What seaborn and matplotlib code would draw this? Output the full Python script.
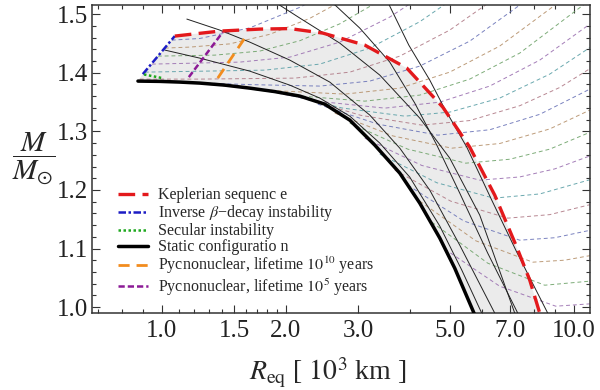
import numpy as np
import matplotlib
matplotlib.use("Agg")
import matplotlib.pyplot as plt
from matplotlib.ticker import FixedLocator, FixedFormatter, NullFormatter
import seaborn as sns

# ---------------- data (R_eq in 10^3 km, M in M_sun) ----------------
r_static = [0.875, 0.989, 1.106, 1.236, 1.422, 1.635, 1.880, 2.163, 2.486, 2.860, 3.289, 3.782, 4.229, 4.730, 5.142, 5.686, 5.848]
m_static = [1.3857, 1.3852, 1.3840, 1.3823, 1.3788, 1.3737, 1.3678, 1.3601, 1.3464, 1.3191, 1.2765, 1.2287, 1.1775, 1.1178, 1.0665, 0.9949, 0.9744]

r_kep = [1.075, 1.383, 1.729, 2.045, 2.459, 3.110, 3.933, 4.809, 5.592, 6.431, 7.273, 7.821, 8.270, 8.363]
m_kep = [1.4625, 1.4710, 1.4744, 1.4753, 1.4676, 1.4471, 1.4079, 1.3413, 1.2730, 1.1911, 1.1024, 1.0461, 0.9898, 0.9813]

r_beta = [0.899, 1.075]
m_beta = [1.3976, 1.4625]
r_sec = [0.905, 1.000]
m_sec = [1.3970, 1.3910]
r_pyc10 = [1.367, 1.608]
m_pyc10 = [1.3908, 1.4642]
r_pyc5 = [1.163, 1.406]
m_pyc5 = [1.3925, 1.4693]

# thin solid sequences
r_om1 = [1.017, 1.236, 1.635, 2.045, 2.418, 2.860, 3.382, 3.999, 4.730, 5.349, 5.979]
m_om1 = [1.4386, 1.4249, 1.4027, 1.3788, 1.3567, 1.3259, 1.2799, 1.2219, 1.1383, 1.0632, 0.9898]
r_om2 = [1.150, 1.383, 1.635, 2.045, 2.557, 3.198, 3.782, 4.472, 5.288, 6.431]
m_om2 = [1.4915, 1.4727, 1.4522, 1.4215, 1.3840, 1.3277, 1.2713, 1.1997, 1.1058, 0.9898]
r_om3 = [1.849, 2.163, 2.704, 3.382, 4.229, 5.000, 5.913, 7.192]
m_om3 = [1.5239, 1.4932, 1.4505, 1.3959, 1.3225, 1.2543, 1.1570, 0.9898]
r_om4 = [2.557, 3.024, 3.576, 4.113, 4.651, 5.288, 6.183, 7.314]
m_om4 = [1.5239, 1.4761, 1.4181, 1.3481, 1.2765, 1.1946, 1.0922, 0.9898]
r_om5 = [3.517, 3.977, 4.472, 4.837, 5.500, 6.324, 7.273, 8.648]
m_om5 = [1.5239, 1.4471, 1.3874, 1.3413, 1.2730, 1.1826, 1.0939, 0.9898]

# thin dashed sequences
r_j1 = [1.057, 1.236, 1.635, 2.163, 2.287]
m_j1 = [1.4556, 1.4584, 1.4765, 1.5116, 1.5205]
r_j2 = [1.017, 1.169, 1.462, 1.828, 2.287, 2.704]
m_j2 = [1.4420, 1.4437, 1.4492, 1.4655, 1.4928, 1.5205]
r_j3 = [0.978, 1.345, 1.729, 2.163, 2.704, 3.382]
m_j3 = [1.4283, 1.4300, 1.4369, 1.4546, 1.4834, 1.5230]
r_j4 = [0.946, 1.546, 2.045, 2.704, 3.576, 4.229]
m_j4 = [1.4147, 1.4181, 1.4266, 1.4522, 1.4949, 1.5287]
r_j5 = [0.909, 1.778, 2.418, 3.198, 4.229, 5.288]
m_j5 = [1.4010, 1.4044, 1.4147, 1.4420, 1.4870, 1.5341]
r_j6 = [0.884, 1.236, 2.103, 2.860, 3.782, 5.000, 6.253]
m_j6 = [1.3891, 1.3891, 1.3908, 1.4010, 1.4283, 1.4727, 1.5205]
r_j7 = [1.106, 1.635, 2.418, 3.198, 4.229, 5.592, 7.821]
m_j7 = [1.3840, 1.3797, 1.3772, 1.3857, 1.4113, 1.4539, 1.5277]
r_j8 = [1.308, 1.912, 2.782, 3.782, 5.000, 6.610, 9.247]
m_j8 = [1.3797, 1.3691, 1.3635, 1.3737, 1.4010, 1.4454, 1.5213]
r_j9 = [1.503, 2.163, 3.110, 4.229, 5.592, 7.396, 10.94]
m_j9 = [1.3763, 1.3603, 1.3515, 1.3618, 1.3891, 1.4335, 1.5239]
r_j10 = [1.710, 2.418, 3.478, 4.730, 6.253, 8.270, 10.94]
m_j10 = [1.3720, 1.3509, 1.3396, 1.3498, 1.3772, 1.4215, 1.4829]
r_j11 = [1.934, 2.735, 3.889, 5.000, 6.610, 8.745, 10.94]
m_j11 = [1.3660, 1.3399, 1.3259, 1.3328, 1.3567, 1.3976, 1.4428]
r_j12 = [2.163, 3.041, 4.277, 5.592, 7.396, 9.247, 10.94]
m_j12 = [1.3584, 1.3273, 1.3106, 1.3184, 1.3437, 1.3748, 1.4068]
r_j13 = [2.391, 3.344, 4.677, 6.253, 8.270, 10.94]
m_j13 = [1.3464, 1.3123, 1.2935, 1.3027, 1.3290, 1.3720]
r_j14 = [2.630, 3.637, 5.057, 6.610, 8.745, 10.94]
m_j14 = [1.3311, 1.2922, 1.2713, 1.2792, 1.3041, 1.3362]
r_j15 = [2.860, 3.955, 5.469, 6.994, 8.745, 10.94]
m_j15 = [1.3140, 1.2696, 1.2457, 1.2524, 1.2696, 1.2983]
r_j16 = [3.110, 4.277, 5.913, 7.396, 8.993, 10.94]
m_j16 = [1.2884, 1.2418, 1.2167, 1.2222, 1.2359, 1.2580]
r_j17 = [3.382, 4.651, 6.394, 8.270, 10.94]
m_j17 = [1.2611, 1.2123, 1.1860, 1.1932, 1.2174]
r_j18 = [3.678, 5.028, 6.916, 8.745, 10.94]
m_j18 = [1.2338, 1.1809, 1.1519, 1.1579, 1.1748]
r_j19 = [3.955, 5.408, 7.396, 8.993, 10.94]
m_j19 = [1.2082, 1.1471, 1.1143, 1.1185, 1.1311]
r_j20 = [4.229, 5.783, 7.953, 9.511, 10.94]
m_j20 = [1.1809, 1.1133, 1.0768, 1.0802, 1.0879]
r_j21 = [4.522, 6.183, 8.504, 10.94]
m_j21 = [1.1451, 1.0751, 1.0375, 1.0444]
r_j22 = [4.864, 6.610, 9.044, 10.94]
m_j22 = [1.0990, 1.0358, 1.0017, 1.0057]

x_ticks = [1.0, 1.5, 2.0, 3.0, 5.0, 7.0, 10.0]
x_tick_labels = ["1.0", "1.5", "2.0", "3.0", "5.0", "7.0", "10.0"]
x_minor = [0.7, 0.8, 0.9, 1.1, 1.2, 1.3, 1.4, 1.6, 1.7, 1.8, 1.9, 4.0, 6.0, 8.0, 9.0]
y_ticks = [1.0, 1.1, 1.2, 1.3, 1.4, 1.5]
y_tick_labels = ["1.0", "1.1", "1.2", "1.3", "1.4", "1.5"]

labels = ["Keplerian sequenc e", "Inverse $\\beta$\u2212decay instability", "Secular instability",
          "Static configuratio n", "Pycnonuclear, lifetime $10^{10}$ years",
          "Pycnonuclear, lifetime $10^{5}$ years"]

# ---------------- style ----------------
sns.set_theme(style="white")
plt.rcParams["font.family"] = ["Liberation Serif", "DejaVu Serif"]
plt.rcParams["mathtext.fontset"] = "stix"

fig = plt.figure(figsize=(6.0, 3.9), dpi=100)
ax = fig.add_axes([0.153, 0.197, 0.830, 0.790])
ax.set_xscale("log")

# shaded stable region
poly_r = np.concatenate([r_static, r_kep[::-1], r_beta[::-1]])
poly_m = np.concatenate([m_static, m_kep[::-1], m_beta[::-1]])
ax.fill(poly_r, poly_m, color="#ebebeb", lw=0, zorder=0)

j_curves = [(r_j1, m_j1), (r_j2, m_j2), (r_j3, m_j3), (r_j4, m_j4), (r_j5, m_j5), (r_j6, m_j6),
            (r_j7, m_j7), (r_j8, m_j8), (r_j9, m_j9), (r_j10, m_j10), (r_j11, m_j11), (r_j12, m_j12),
            (r_j13, m_j13), (r_j14, m_j14), (r_j15, m_j15), (r_j16, m_j16), (r_j17, m_j17),
            (r_j18, m_j18), (r_j19, m_j19), (r_j20, m_j20), (r_j21, m_j21), (r_j22, m_j22)]
j_colors = ["#6b74b8", "#b5906a", "#6fa36a", "#9a6fb0", "#5a9fa6", "#b07a86"]
for i, (rr, mm) in enumerate(j_curves):
    sns.lineplot(x=rr, y=mm, ax=ax, sort=False, estimator=None, color=j_colors[i % len(j_colors)],
                 lw=0.7, alpha=0.9, linestyle=(0, (4, 3)), zorder=2)

for rr, mm in [(r_om1, m_om1), (r_om2, m_om2), (r_om3, m_om3), (r_om4, m_om4), (r_om5, m_om5)]:
    sns.lineplot(x=rr, y=mm, ax=ax, sort=False, estimator=None, color="#222222", lw=0.7, zorder=3)

h_static = sns.lineplot(x=r_static, y=m_static, ax=ax, sort=False, estimator=None,
                        color="black", lw=2.5, zorder=4).lines[-1]
h_beta = sns.lineplot(x=r_beta, y=m_beta, ax=ax, sort=False, estimator=None, color="#1c1cc4",
                      lw=1.8, linestyle=(0, (3, 1, 1, 1)), zorder=5).lines[-1]
h_sec = sns.lineplot(x=r_sec, y=m_sec, ax=ax, sort=False, estimator=None, color="#1fa81f",
                     lw=1.8, linestyle=(0, (1, 1)), zorder=5).lines[-1]
h_pyc10 = sns.lineplot(x=r_pyc10, y=m_pyc10, ax=ax, sort=False, estimator=None, color="#f28c1e",
                       lw=2.0, linestyle=(0, (4, 2.5)), zorder=5).lines[-1]
h_pyc5 = sns.lineplot(x=r_pyc5, y=m_pyc5, ax=ax, sort=False, estimator=None, color="#8c1a96",
                      lw=1.8, linestyle=(0, (2.5, 1.2)), zorder=5).lines[-1]
h_kep = sns.lineplot(x=r_kep, y=m_kep, ax=ax, sort=False, estimator=None, color="#e3191c",
                     lw=2.4, linestyle=(0, (5, 2.2)), zorder=6).lines[-1]

ax.set_xlim(0.676, 10.94)
ax.set_ylim(0.9898, 1.5154)

ax.xaxis.set_major_locator(FixedLocator(x_ticks))
ax.xaxis.set_major_formatter(FixedFormatter(x_tick_labels))
ax.xaxis.set_minor_locator(FixedLocator(x_minor))
ax.xaxis.set_minor_formatter(NullFormatter())
ax.yaxis.set_major_locator(FixedLocator(y_ticks))
ax.yaxis.set_major_formatter(FixedFormatter(y_tick_labels))
ax.yaxis.set_minor_locator(FixedLocator(np.arange(0.98, 1.52, 0.02)))
ax.tick_params(which="both", direction="in", bottom=True, left=True, top=True, right=True,
               colors="#333333", labelcolor="#222222", width=0.8)
ax.tick_params(which="major", length=6, labelsize=18, pad=3)
ax.tick_params(which="minor", length=3)
ax.tick_params(axis="x", which="major", pad=5)
for s in ax.spines.values():
    s.set_color("#333333")
    s.set_linewidth(1.1)

ax.set_xlabel("")
ax.set_ylabel("")
fig.text(0.547, 0.045, r"$R_{\rm eq}$ [ $10^3$ km ]", ha="center", va="center", fontsize=20)
fig.text(0.056, 0.595, r"$\dfrac{M}{M_{\odot}}$", ha="center", va="center", fontsize=21)

leg = ax.legend([h_kep, h_beta, h_sec, h_static, h_pyc10, h_pyc5], labels, loc="lower left",
                bbox_to_anchor=(0.052, 0.05), frameon=False, fontsize=11.5, borderpad=0,
                borderaxespad=0, labelspacing=0.0, handlelength=1.9, handletextpad=0.6)

fig.savefig("out.png", dpi=100)
